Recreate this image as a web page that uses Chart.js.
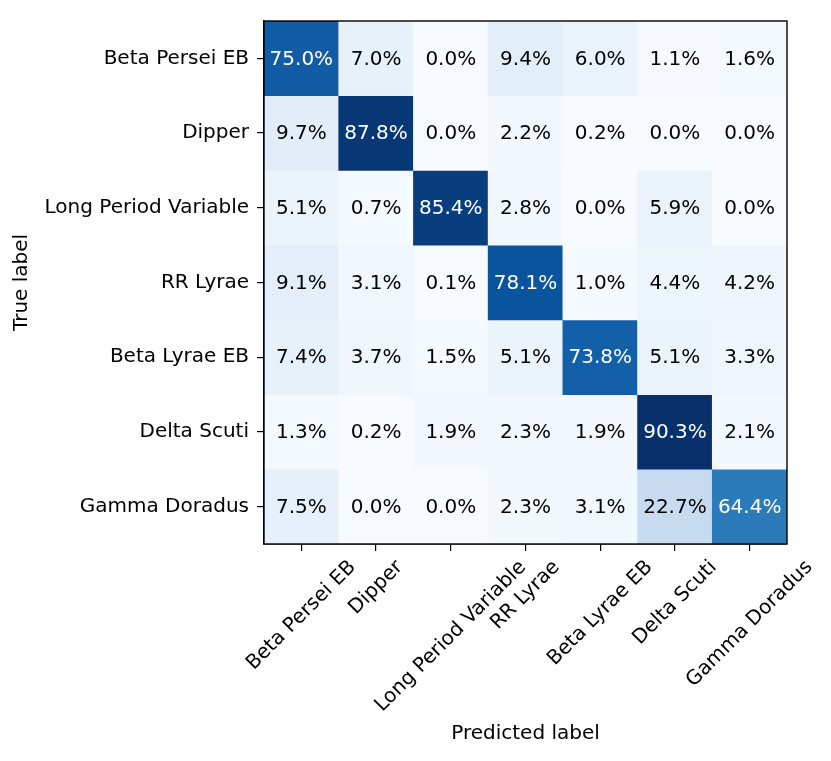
<!DOCTYPE html>
<html>
<head>
    <title>Confusion matrix</title>
    <style>
        body { margin: 0; background: #fff; }
        #wrap { width: 831px; height: 761px; }
    </style>
    <script src="https://cdn.jsdelivr.net/npm/chart.js"></script>
</head>
<body>
    <div id="wrap"><canvas id="cm" width="831" height="761"></canvas></div>
    <script>
        const classes = ['Beta Persei EB', 'Dipper', 'Long Period Variable', 'RR Lyrae', 'Beta Lyrae EB', 'Delta Scuti', 'Gamma Doradus'];
        // rows = true label, columns = predicted label (percent)
        const betaPerseiRow = [75.0, 7.0, 0.0, 9.4, 6.0, 1.1, 1.6];
        const dipperRow = [9.7, 87.8, 0.0, 2.2, 0.2, 0.0, 0.0];
        const longPeriodRow = [5.1, 0.7, 85.4, 2.8, 0.0, 5.9, 0.0];
        const rrLyraeRow = [9.1, 3.1, 0.1, 78.1, 1.0, 4.4, 4.2];
        const betaLyraeRow = [7.4, 3.7, 1.5, 5.1, 73.8, 5.1, 3.3];
        const deltaScutiRow = [1.3, 0.2, 1.9, 2.3, 1.9, 90.3, 2.1];
        const gammaDoradusRow = [7.5, 0.0, 0.0, 2.3, 3.1, 22.7, 64.4];
        const rows = [betaPerseiRow, dipperRow, longPeriodRow, rrLyraeRow, betaLyraeRow, deltaScutiRow, gammaDoradusRow];

        const FONT = 'DejaVu Sans';

        // matplotlib "Blues"
        const blues = [
            [247, 251, 255], [222, 235, 247], [198, 219, 239], [158, 202, 225], [107, 174, 214],
            [66, 146, 198], [33, 113, 181], [8, 81, 156], [8, 48, 107]
        ];
        const vmax = Math.max(...rows.flat());
        const vmin = Math.min(...rows.flat());

        function bluesColor(v) {
            let t = (v - vmin) / (vmax - vmin);
            t = Math.max(0, Math.min(1, t)) * (blues.length - 1);
            const i = Math.min(Math.floor(t), blues.length - 2);
            const f = t - i;
            const c = blues[i].map((a, k) => Math.round(a + (blues[i + 1][k] - a) * f));
            return 'rgb(' + c.join(',') + ')';
        }

        const datasets = rows.map((row, r) => ({
            label: classes[r],
            data: row.map(() => [r - 0.5, r + 0.5]),
            backgroundColor: row.map(bluesColor),
            borderWidth: 0,
            barPercentage: 1,
            categoryPercentage: 1,
            grouped: false
        }));

        // cell text, rotated x labels and frame
        const cellText = {
            id: 'cellText',
            afterDatasetsDraw(chart) {
                const c = chart.ctx;
                c.save();
                c.font = '20px "' + FONT + '"';
                c.textAlign = 'center';
                c.textBaseline = 'middle';
                chart.data.datasets.forEach((ds, r) => {
                    chart.getDatasetMeta(r).data.forEach((bar, col) => {
                        const v = rows[r][col];
                        c.fillStyle = v > vmax / 2 ? '#ffffff' : '#000000';
                        c.fillText(v.toFixed(1) + '%', bar.x, (bar.y + bar.base) / 2 + 1);
                    });
                });
                c.restore();
            },
            afterDraw(chart) {
                const c = chart.ctx;
                const a = chart.chartArea;
                const xs = chart.scales.x;
                c.save();
                c.strokeStyle = '#000';
                c.lineWidth = 1.4;
                c.strokeRect(a.left, a.top, a.right - a.left, a.bottom - a.top);
                c.font = '20px "' + FONT + '"';
                c.fillStyle = '#000';
                c.textAlign = 'center';
                c.textBaseline = 'middle';
                const top = a.bottom + 13;
                classes.forEach((lab, i) => {
                    const w = c.measureText(lab).width;
                    const h = 20;
                    const half = (w + h) * Math.SQRT1_2 / 2;
                    c.save();
                    c.translate(xs.getPixelForValue(i), top + half);
                    c.rotate(-Math.PI / 4);
                    c.fillText(lab, 0, 0);
                    c.restore();
                });
                c.restore();
            }
        };

        new Chart(document.getElementById('cm'), {
            type: 'bar',
            data: { labels: classes, datasets: datasets },
            plugins: [cellText],
            options: {
                responsive: false,
                animation: false,
                layout: { padding: { top: 21, right: 44, left: 0, bottom: 0 } },
                plugins: {
                    legend: { display: false },
                    tooltip: { enabled: false }
                },
                scales: {
                    x: {
                        type: 'category',
                        offset: true,
                        grid: { offset: false, drawOnChartArea: false, drawTicks: true, tickLength: 7, color: '#000', lineWidth: 1.2 },
                        border: { display: true, color: '#000', width: 1.4 },
                        ticks: { display: false },
                        title: {
                            display: true, text: 'Predicted label', color: '#000',
                            font: { family: FONT, size: 20 }, padding: { top: 0, bottom: 15 }
                        },
                        afterFit(s) { s.height = 217; }
                    },
                    y: {
                        type: 'linear',
                        reverse: true,
                        min: -0.5,
                        max: 6.5,
                        afterBuildTicks(s) { s.ticks = classes.map((_, i) => ({ value: i })); },
                        grid: { drawOnChartArea: false, drawTicks: true, tickLength: 7, color: '#000', lineWidth: 1.2 },
                        border: { display: true, color: '#000', width: 1.4 },
                        ticks: {
                            color: '#000', padding: 8, font: { family: FONT, size: 20 },
                            callback: (v) => classes[v]
                        },
                        title: {
                            display: true, text: 'True label', color: '#000',
                            font: { family: FONT, size: 20 }, padding: { top: 10, bottom: 0 }
                        },
                        afterFit(s) { s.width = 264; }
                    }
                }
            }
        });
    </script>
</body>
</html>
